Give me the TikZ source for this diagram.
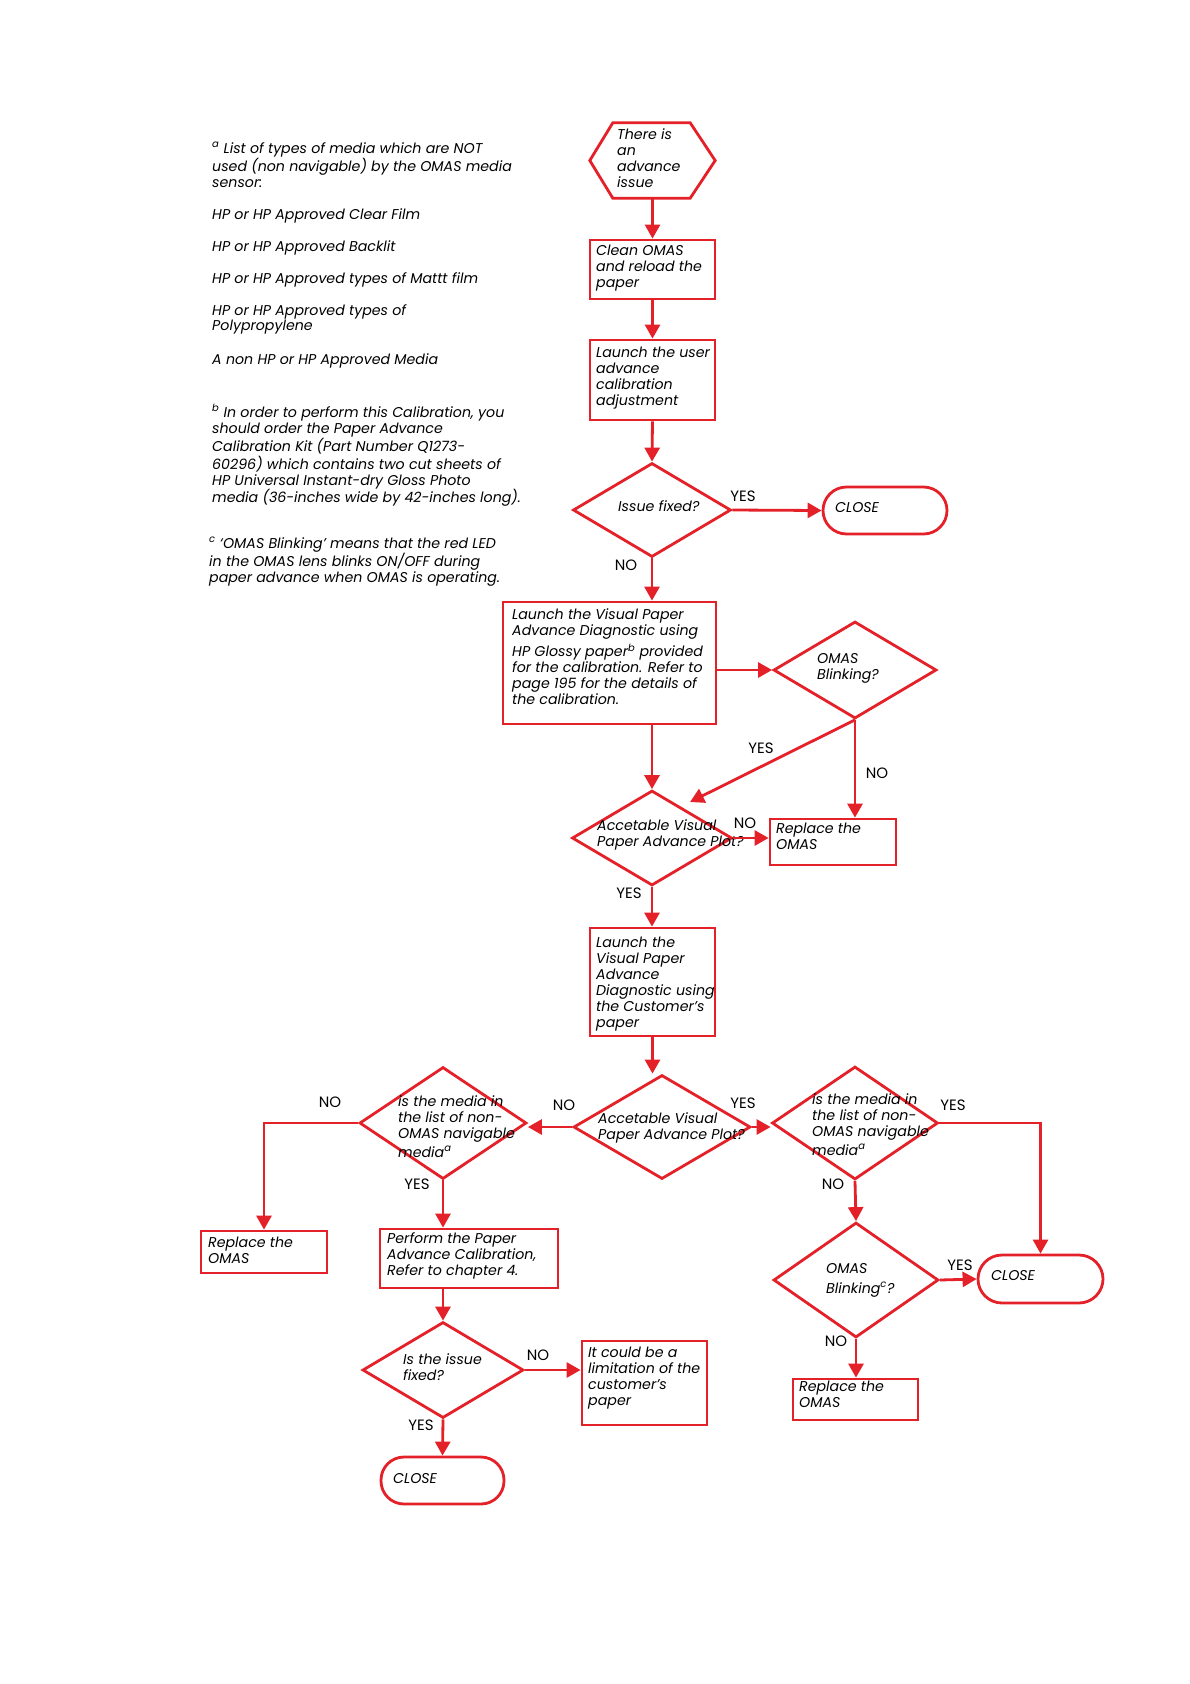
\documentclass[tikz,border=0pt]{standalone}
\usepackage{fontspec}
\setmainfont{Poppins}
\usetikzlibrary{arrows.meta,shapes.geometric,calc}
\definecolor{hpred}{RGB}{228,32,40}
\newcommand\mlines[1]{\begin{tabular}[t]{@{}l@{}}#1\end{tabular}}
\begin{document}
\begin{tikzpicture}[x=1pt,y=-1pt,
  flow/.style={draw=hpred, line width=2.8pt},
  boxn/.style={flow, rectangle, inner sep=0pt},
  dia/.style={flow, diamond, inner sep=0pt},
  term/.style={flow, rectangle, inner sep=0pt},
  txt/.style={anchor=base west, inner sep=0pt, font=\fontsize{14.2}{16}\selectfont\itshape},
  lbl/.style={inner sep=0pt, font=\fontsize{15}{16}\selectfont},
  conn/.style={draw=hpred, line width=2.8pt, -{Triangle[length=14pt,width=15pt]}}]
\useasboundingbox[fill=white] (0,0) rectangle (1190,1684);

% ---------- notes ----------
\node[txt] at (212,153) {\mlines{\textsuperscript{a} List of types of media which are NOT\\used (non navigable) by the OMAS media\\sensor:}};
\node[txt] at (212,219) {HP or HP Approved Clear Film};
\node[txt] at (212,251) {HP or HP Approved Backlit};
\node[txt] at (212,283) {HP or HP Approved types of Mattt film};
\node[txt,font=\fontsize{14.2}{15}\selectfont\itshape] at (212,315) {\mlines{HP or HP Approved types of\\Polypropylene}};
\node[txt] at (212,364) {A non HP or HP Approved Media};
\node[txt] at (212,417) {\mlines{\textsuperscript{b} In order to perform this Calibration, you\\should order the Paper Advance\\Calibration Kit (Part Number Q1273-\\60296) which contains two cut sheets of\\HP Universal Instant-dry Gloss Photo}};
\node[txt] at (212,502) {media (36-inches wide by 42-inches long).};
\node[txt] at (209,548) {\mlines{\textsuperscript{c} ‘OMAS Blinking’ means that the red LED\\in the OMAS lens blinks ON/OFF during\\paper advance when OMAS is operating.}};

% ---------- shapes ----------
\node[inner sep=0pt, minimum width=125pt, minimum height=75pt] (hex) at (652.5,160.5) {};
\draw[flow] (hex.west) -- ($(hex.north west)+(23,0)$) -- ($(hex.north east)+(-25,0)$) -- (hex.east)
  -- ($(hex.south east)+(-25,0)$) -- ($(hex.south west)+(23,0)$) -- cycle;
\node[boxn, minimum width=125pt, minimum height=59pt] (clean) at (652.5,269.5) {};
\node[boxn, minimum width=125pt, minimum height=80pt] (user) at (652.5,380) {};
\node[dia, minimum width=158pt, minimum height=94pt] (fixed1) at (652,510) {};
\node[term, rounded corners=23.5pt, minimum width=124pt, minimum height=47pt] (close1) at (885,510.5) {};
\node[boxn, minimum width=213pt, minimum height=122pt] (visual) at (609.5,663) {};
\node[dia, minimum width=163pt, minimum height=97pt] (blink1) at (855,670) {};
\node[dia, minimum width=160pt, minimum height=95pt] (acc1) at (652,838) {};
\node[boxn, minimum width=126pt, minimum height=46pt] (rep1) at (833,842) {};
\node[boxn, minimum width=125pt, minimum height=108pt] (cust) at (652.5,982) {};
\node[dia, minimum width=177pt, minimum height=104pt] (acc2) at (662,1127) {};
\node[dia, minimum width=166pt, minimum height=113pt] (med2) at (855,1123) {};
\node[dia, minimum width=167pt, minimum height=112pt] (med1) at (443,1123) {};
\node[boxn, minimum width=126pt, minimum height=42pt] (rep2) at (264,1252) {};
\node[boxn, minimum width=178pt, minimum height=59pt] (perform) at (469,1258.5) {};
\node[dia, minimum width=161pt, minimum height=96pt] (fixed2) at (443,1370) {};
\node[boxn, minimum width=125pt, minimum height=84pt] (could) at (644.5,1383) {};
\node[term, rounded corners=23pt, minimum width=123pt, minimum height=47pt] (close3) at (442.5,1480.5) {};
\node[dia, minimum width=165pt, minimum height=115pt] (blink2) at (856,1280) {};
\node[term, rounded corners=24pt, minimum width=125pt, minimum height=48pt] (close2) at (1040.5,1279) {};
\node[boxn, minimum width=125pt, minimum height=41pt] (rep3) at (855.5,1399.5) {};

% ---------- texts ----------
\node[txt] at (617,139) {\mlines{There is\\an\\advance\\issue}};
\node[txt] at (596,255) {\mlines{Clean OMAS\\and reload the\\paper}};
\node[txt] at (596,357) {\mlines{Launch the user\\advance\\calibration\\adjustment}};
\node[txt] at (618,511) {Issue fixed?};
\node[txt] at (835,512) {CLOSE};
\node[txt] at (512,619) {\mlines{Launch the Visual Paper\\Advance Diagnostic using\\[4pt]HP Glossy paper\textsuperscript{b} provided\\for the calibration. Refer to\\page 195 for the details of\\the calibration.}};
\node[txt] at (817,663) {\mlines{OMAS\\Blinking?}};
\node[txt] at (597,830) {\mlines{Accetable Visual\\Paper Advance Plot?}};
\node[txt] at (776,833) {\mlines{Replace the\\OMAS}};
\node[txt] at (596,947) {\mlines{Launch the\\Visual Paper\\Advance\\Diagnostic using\\the Customer’s\\paper}};
\node[txt] at (598,1123) {\mlines{Accetable Visual\\Paper Advance Plot?}};
\node[txt] at (812,1104) {\mlines{is the media in\\the list of non-\\OMAS navigable\\[3pt]media\textsuperscript{a}}};
\node[txt] at (398,1106) {\mlines{is the media in\\the list of non-\\OMAS navigable\\[3pt]media\textsuperscript{a}}};
\node[txt] at (208,1247) {\mlines{Replace the\\OMAS}};
\node[txt] at (387,1243) {\mlines{Perform the Paper\\Advance Calibration,\\Refer to chapter 4.}};
\node[txt] at (403,1364) {\mlines{Is the issue\\fixed?}};
\node[txt] at (588,1357) {\mlines{It could be a\\limitation of the\\customer’s\\paper}};
\node[txt] at (393,1483) {CLOSE};
\node[txt] at (826,1273) {\mlines{OMAS\\[4pt]Blinking\textsuperscript{c}?}};
\node[txt] at (991,1280) {CLOSE};
\node[txt] at (799,1391) {\mlines{Replace the\\OMAS}};

% ---------- connectors ----------
\draw[conn] (hex.south) -- (clean.north);
\draw[conn] (clean.south) -- (user.north);
\draw[conn] (user.south) -- (fixed1.north);
\draw[conn] (fixed1.east) -- (close1.west);
\draw[conn] (fixed1.south) -- (fixed1.south |- visual.north);
\draw[conn] (visual.east |- blink1.west) -- (blink1.west);
\draw[conn] (acc1.north |- visual.south) -- (acc1.north);
\coordinate (yestip) at (690,802);
\draw[conn] (blink1.south) -- (yestip);
\draw[conn] (blink1.south) -- (blink1.south |- rep1.north);
\draw[conn] (acc1.east) -- (acc1.east -| rep1.west);
\draw[conn] (acc1.south) -- (acc1.south |- cust.north);
\draw[conn] (cust.south) -- (cust.south |- acc2.north);
\draw[conn] (acc2.west) -- (acc2.west -| med1.east);
\draw[conn] (acc2.east) -- (acc2.east -| med2.west);
\draw[conn] (med1.west) -| (rep2.north);
\draw[conn] (med1.south) -- (med1.south |- perform.north);
\draw[conn] (fixed2.north |- perform.south) -- (fixed2.north);
\draw[conn] (fixed2.east) -- (fixed2.east -| could.west);
\draw[conn] (fixed2.south) -- (close3.north);
\draw[conn] (med2.east) -| (close2.north);
\draw[conn] (med2.south) -- (blink2.north);
\draw[conn] (blink2.east) -- (close2.west);
\draw[conn] (blink2.south) -- (blink2.south |- rep3.north);

% ---------- labels ----------
\node[lbl] at (743,496) {YES};
\node[lbl] at (626,565) {NO};
\node[lbl] at (761,748) {YES};
\node[lbl] at (877,773) {NO};
\node[lbl] at (745,823) {NO};
\node[lbl] at (629,893) {YES};
\node[lbl] at (564,1105) {NO};
\node[lbl] at (743,1103) {YES};
\node[lbl] at (953,1105) {YES};
\node[lbl] at (833,1184) {NO};
\node[lbl] at (960,1265) {YES};
\node[lbl] at (836,1341) {NO};
\node[lbl] at (330,1102) {NO};
\node[lbl] at (417,1184) {YES};
\node[lbl] at (538,1355) {NO};
\node[lbl] at (421,1425) {YES};
\end{tikzpicture}
\end{document}
